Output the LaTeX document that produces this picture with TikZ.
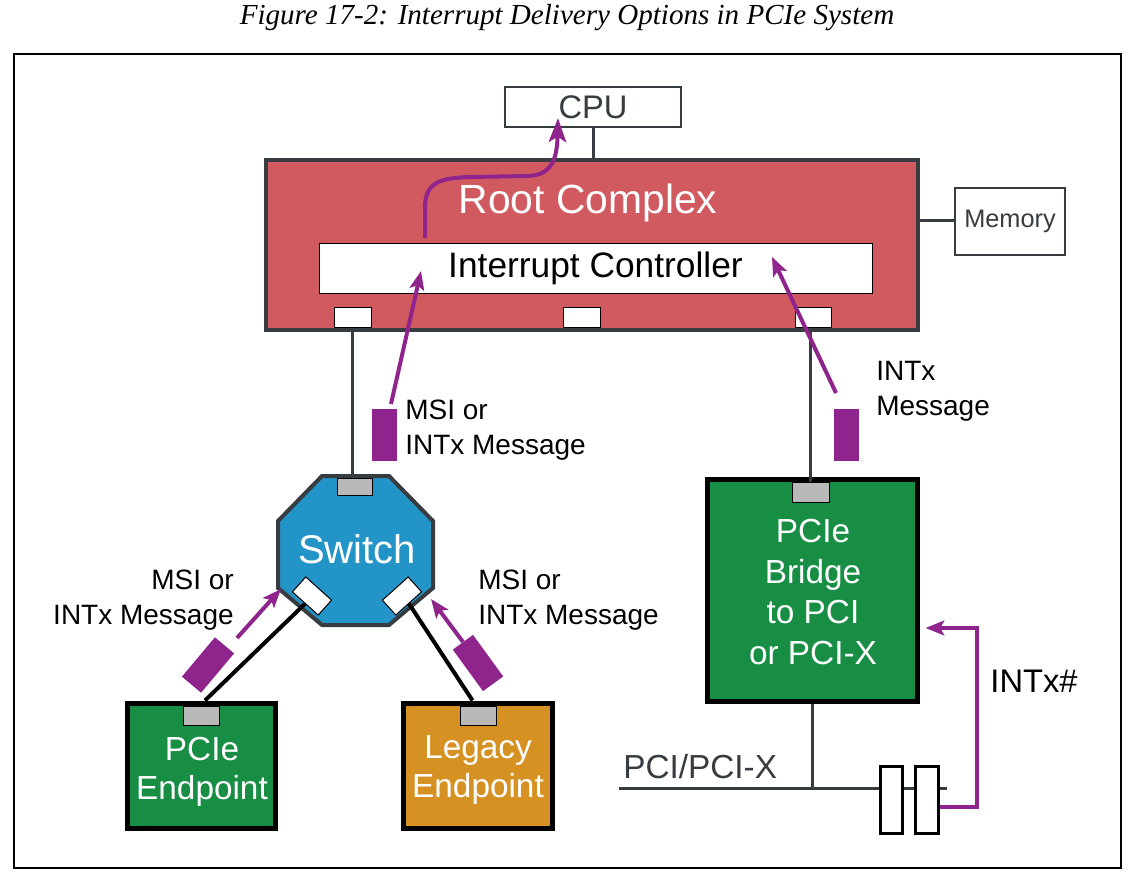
\documentclass[tikz,border=0pt]{standalone}
\usepackage{fontspec}
\setmainfont{Liberation Sans}
\newfontfamily\titlefont{Liberation Serif}
\usetikzlibrary{arrows.meta,calc}
\definecolor{rcred}{RGB}{208,90,95}
\definecolor{swblue}{RGB}{35,148,200}
\definecolor{epgreen}{RGB}{24,142,69}
\definecolor{legorange}{RGB}{214,145,35}
\definecolor{msgpurple}{RGB}{142,36,140}
\definecolor{portgray}{RGB}{185,185,185}
\definecolor{darkline}{RGB}{55,60,65}
\tikzset{
  plainbox/.style={draw=darkline, line width=1.5pt, fill=white, inner sep=0pt},
  slotbox/.style={draw=black, line width=0.75pt, fill=white, inner sep=0pt, minimum width=27.75pt, minimum height=15pt},
  portbox/.style={draw=black, line width=0.75pt, fill=portgray, inner sep=0pt, minimum width=27pt, minimum height=14pt},
  devbox/.style={draw=black, line width=3.75pt, inner sep=0pt},
  devtext/.style={text=white, font=\fontsize{25}{29}\selectfont, align=center},
  msgbox/.style={fill=msgpurple, inner sep=0pt, minimum width=18.75pt, minimum height=38.5pt},
  msgarrow/.style={draw=msgpurple, line width=3pt, -{Stealth[length=14pt,width=11pt,inset=3pt]}},
  bigarrow/.style={draw=msgpurple, line width=3pt, -{Stealth[length=18pt,width=13pt,inset=4pt]}},
  conn/.style={draw=darkline, line width=2.25pt},
  link/.style={draw=black, line width=3pt},
  lbl/.style={font=\fontsize{21}{26.25}\selectfont, inner sep=0pt},
  busslot/.style={draw=black, line width=2.25pt, fill=white, inner sep=0pt, minimum width=17pt, minimum height=50pt},
  octagon/.style={draw=darkline, line width=3pt, fill=swblue, line join=miter}
}
\begin{document}
\begin{tikzpicture}[x=0.75pt,y=-0.75pt]
\useasboundingbox (0,0) rectangle (1137,881);
% title
\node (title) at (567,18) {\titlefont\itshape\fontsize{21.8}{25}\selectfont Figure 17-2: Interrupt Delivery Options in PCIe System};
% frame
\node[draw=black, line width=1.2pt, inner sep=0pt, minimum width=830.25pt, minimum height=610.5pt] (frame) at (567.5,461) {};

% CPU, root complex, memory
\node[plainbox, minimum width=132pt, minimum height=30pt, font=\fontsize{24.5}{28}\selectfont, text=darkline] (cpu) at (593,107) {CPU};
\node[draw=darkline, line width=3pt, fill=rcred, inner sep=0pt, minimum width=489pt, minimum height=127.5pt] (rc) at (592,245) {};
\node[text=white, font=\fontsize{30.6}{34}\selectfont] (rclabel) at (588,203) {Root Complex};
\node[draw=black, line width=0.75pt, fill=white, inner sep=0pt, minimum width=414.75pt, minimum height=37.5pt, font=\fontsize{26.5}{30}\selectfont] (ic) at (595.5,268) {Interrupt Controller};
\node[slotbox] (s1) at (352.5,317) {};
\node[slotbox] (s2) at (582,317) {};
\node[slotbox, minimum width=27pt] (s3) at (813.5,317) {};
\node[plainbox, minimum width=82.5pt, minimum height=50.25pt, font=\fontsize{19}{22}\selectfont, text=darkline] (mem) at (1010,221.5) {Memory};
\draw[conn] (cpu.south) -- (cpu.south |- rc.north);
\draw[conn] (rc.east |- 0,220) -- (mem.west |- 0,220);

% switch
\draw[octagon] (322,476) -- (389,476) -- (433,521) -- (433,588) -- (389,625) -- (322,625) -- (278,588) -- (278,521) -- cycle;
\coordinate (swtop) at (355.5,476);
\node[text=white, font=\fontsize{30}{34}\selectfont] (swlabel) at (357,549) {Switch};
\node[portbox, minimum width=26pt, minimum height=13pt] (swp) at (355,487) {};
\node[slotbox, minimum width=26pt, minimum height=15pt, rotate=-42] (swl) at (312,596) {};
\node[slotbox, minimum width=26pt, minimum height=15pt, rotate=42] (swr) at (402,596) {};
\draw[conn] (s1.south) -- (s1.south |- swtop);

% endpoints
\node[devbox, fill=epgreen, minimum width=111pt, minimum height=93.75pt] (ep1) at (201,765.5) {};
\node[portbox] (ep1p) at (201,716) {};
\node[devtext] (ep1t) at (202,772) {PCIe\\Endpoint};
\node[devbox, fill=legorange, minimum width=111.75pt, minimum height=93.75pt] (ep2) at (477.5,765.5) {};
\node[portbox] (ep2p) at (478,716) {};
\node[devtext] (ep2t) at (478,770) {Legacy\\Endpoint};
\draw[link] (swl.south) -- ($(ep1.north)+(4,0)$);
\draw[link] (swr.south) -- ($(ep2.north)+(-5,0)$);

% bridge
\node[devbox, fill=epgreen, minimum width=157.5pt, minimum height=166.5pt] (br) at (812,590) {};
\node[portbox, minimum width=27.75pt, minimum height=15pt] (brp) at (810.5,492) {};
\node[devtext, font=\fontsize{25}{30.5}\selectfont] (brt) at (813,592) {PCIe\\Bridge\\to PCI\\or PCI-X};
\draw[conn] ($(s3.south)+(-3,0)$) -- ($(s3.south |- brp.north)+(-3,0)$);

% bus
\coordinate (busL) at (619,788);
\coordinate (busR) at (947,788);
\draw[conn] (busL) -- (busR);
\draw[conn] (br.south) -- (br.south |- busL);
\node[busslot] (sl1) at (891.5,800) {};
\node[busslot] (sl2) at (927,800) {};
\node[font=\fontsize{25}{29}\selectfont, text=darkline, anchor=west, inner sep=0pt] (bustext) at (623,767) {PCI/PCI-X};

% messages
\node[msgbox] (m1) at (384,435) {};
\node[msgbox] (m2) at (846.5,435) {};
\coordinate (m1a) at (391,404);
\coordinate (m1b) at (421,271);
\coordinate (m2a) at (836,393);
\coordinate (m2b) at (772,257);
\draw[msgarrow] (m1a) -- (m1b);
\draw[msgarrow] (m2a) -- (m2b);
\node[lbl, anchor=west, align=left] (m1t) at (405,430.5) {MSI or\\INTx Message};
\node[lbl, anchor=west, align=left] (m2t) at (876,391) {INTx\\Message};

\node[msgbox, rotate=-40] (m3) at (208,665) {};
\node[msgbox, rotate=36] (m4) at (478,663) {};
\coordinate (m3a) at (237,638);
\coordinate (m3b) at (281,589);
\coordinate (m4a) at (463,642);
\coordinate (m4b) at (431,599);
\draw[msgarrow] (m3a) -- (m3b);
\draw[msgarrow] (m4a) -- (m4b);
\node[lbl, anchor=east, align=right] (m3t) at (234,600) {MSI or\\INTx Message};
\node[lbl, anchor=west, align=left] (m4t) at (478,600) {MSI or\\INTx Message};

% curved arrow to CPU
\coordinate (ca) at (425,238);
\coordinate (cb) at (558,118);
\draw[bigarrow] (ca) -- (425,208) .. controls (425,182) and (440,178) .. (470,177) -- (528,176) .. controls (550,175) and (557,162) .. (cb);

% INTx# sideband
\draw[msgarrow] ([yshift=-5.5pt]sl2.east) -- ++(37,0) |- ($(br.east)+(6,38)$);
\node[font=\fontsize{24.5}{28}\selectfont, inner sep=0pt] (intx) at (1034,681) {INTx\#};
\end{tikzpicture}
\end{document}
